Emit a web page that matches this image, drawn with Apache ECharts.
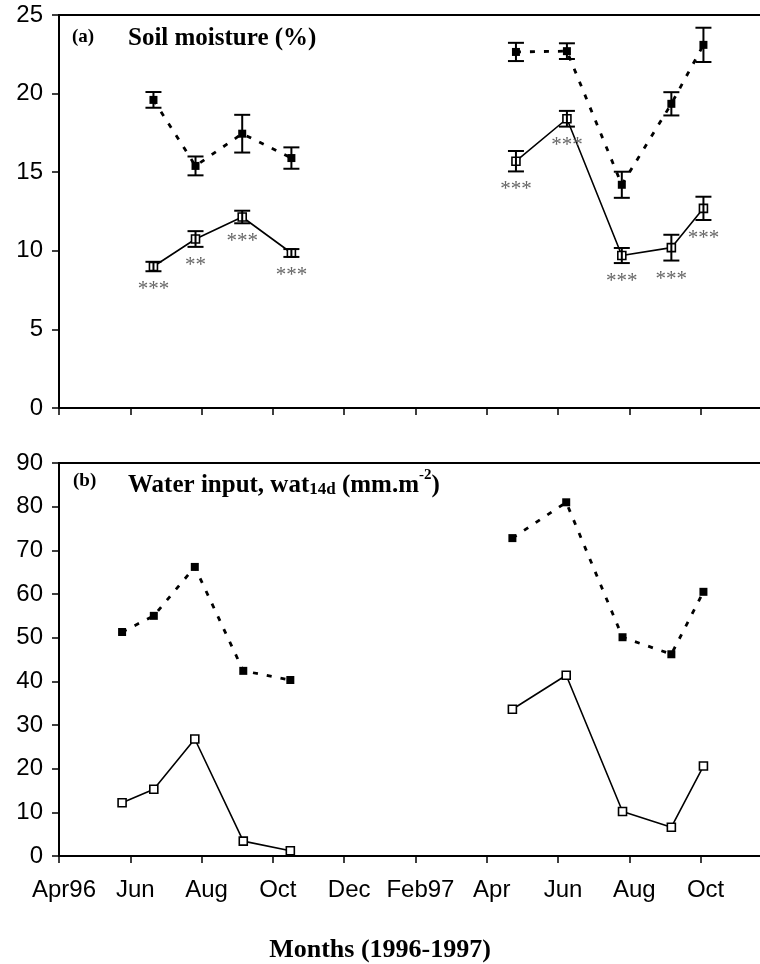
<!DOCTYPE html>
<html>
<head>
<meta charset="utf-8">
<script src="https://cdn.jsdelivr.net/npm/echarts@6/dist/echarts.min.js"></script>
<style>
  html, body { margin: 0; padding: 0; background: #fff; }
  #chart { width: 760px; height: 964px; }
</style>
</head>
<body>
<div id="chart"></div>
<script>
// x positions are months after 1 April 1996
const monthLabels = ['Apr96', 'Jun', 'Aug', 'Oct', 'Dec', 'Feb97', 'Apr', 'Jun', 'Aug', 'Oct'];

// (a) soil moisture (%)
const soilDates96 = [2.65, 3.83, 5.14, 6.52];
const soilDates97 = [12.82, 14.25, 15.79, 17.18, 18.08];
const soilClosed96 = [19.6, 15.4, 17.45, 15.9];
const soilClosedErr96 = [0.5, 0.6, 1.2, 0.68];
const soilOpen96 = [9.0, 10.75, 12.15, 9.86];
const soilOpenErr96 = [0.3, 0.5, 0.4, 0.25];
const soilClosed97 = [22.65, 22.7, 14.2, 19.35, 23.1];
const soilClosedErr97 = [0.58, 0.5, 0.83, 0.74, 1.09];
const soilOpen97 = [15.7, 18.4, 9.7, 10.2, 12.7];
const soilOpenErr97 = [0.65, 0.5, 0.48, 0.82, 0.74];
const signif96 = ['***', '**', '***', '***'];
const signif97 = ['***', '***', '***', '***', '***'];

// (b) water input, wat14d (mm.m-2)
const waterDates96 = [1.77, 2.66, 3.81, 5.17, 6.49];
const waterDates97 = [12.72, 14.23, 15.81, 17.18, 18.08];
const waterClosed96 = [51.3, 55.0, 66.2, 42.4, 40.3];
const waterOpen96 = [12.2, 15.3, 26.8, 3.4, 1.2];
const waterClosed97 = [72.8, 81.0, 50.1, 46.2, 60.5];
const waterOpen97 = [33.6, 41.4, 10.2, 6.6, 20.6];

const SANS = '"Liberation Sans", Arial, sans-serif';
const SERIF = '"Liberation Serif", "Times New Roman", serif';

const pairs = (xs, ys) => xs.map((x, i) => [x, ys[i]]);

function lineSeries(idx, xs, ys, filled) {
    return {
        type: 'line',
        xAxisIndex: idx, yAxisIndex: idx,
        data: pairs(xs, ys),
        symbol: 'rect',
        symbolSize: 8,
        showSymbol: true,
        animation: false,
        z: 2,
        lineStyle: filled
            ? { color: '#000', width: 2.8, type: [5, 9] }
            : { color: '#000', width: 1.6, type: 'solid' },
        itemStyle: filled
            ? { color: '#000', borderColor: '#000', borderWidth: 0 }
            : { color: '#fff', borderColor: '#000', borderWidth: 1.6 }
    };
}

function errorSeries(idx, xs, ys, errs, stars) {
    return {
        type: 'custom',
        xAxisIndex: idx, yAxisIndex: idx,
        data: xs.map((x, i) => [x, ys[i], errs[i]]),
        animation: false,
        z: 3,
        renderItem: function (params, api) {
            const x = api.value(0), y = api.value(1), e = api.value(2);
            const hi = api.coord([x, y + e]);
            const lo = api.coord([x, y - e]);
            const w = 8;
            const st = { stroke: '#000', lineWidth: 2 };
            const children = [
                { type: 'line', shape: { x1: hi[0], y1: hi[1], x2: lo[0], y2: lo[1] }, style: st },
                { type: 'line', shape: { x1: hi[0] - w, y1: hi[1], x2: hi[0] + w, y2: hi[1] }, style: st },
                { type: 'line', shape: { x1: lo[0] - w, y1: lo[1], x2: lo[0] + w, y2: lo[1] }, style: st }
            ];
            if (stars) {
                children.push({
                    type: 'text',
                    x: lo[0], y: lo[1] + 8,
                    style: {
                        text: stars[params.dataIndex],
                        fill: '#666',
                        font: '21px ' + SERIF,
                        align: 'center',
                        verticalAlign: 'top'
                    }
                });
            }
            return { type: 'group', children };
        }
    };
}

function xAxis(idx, showLabels) {
    return {
        type: 'value', gridIndex: idx,
        min: 0, max: 20.2, interval: 2,
        axisLine: { show: true, onZero: false, lineStyle: { color: '#000', width: 2 } },
        axisTick: { show: true, inside: false, length: 7, lineStyle: { color: '#000', width: 1.5 } },
        splitLine: { show: false },
        axisLabel: {
            show: showLabels,
            margin: 22,
            color: '#000',
            fontFamily: SANS,
            fontSize: 24,
            padding: [0, 0, 0, 10],
            formatter: v => (v % 2 === 0 && v / 2 < monthLabels.length) ? monthLabels[v / 2] : ''
        }
    };
}

function yAxis(idx, max, interval) {
    return {
        type: 'value', gridIndex: idx,
        min: 0, max: max, interval: interval,
        axisLine: { show: true, lineStyle: { color: '#000', width: 2 } },
        axisTick: { show: true, inside: false, length: 7, lineStyle: { color: '#000', width: 1.5 } },
        splitLine: { show: false },
        axisLabel: { margin: 16, color: '#000', fontFamily: SANS, fontSize: 24 }
    };
}

const chart = echarts.init(document.getElementById('chart'), null, { renderer: 'canvas' });

chart.setOption({
    backgroundColor: '#fff',
    animation: false,
    grid: [
        { left: 59, top: 15, width: 720, height: 393, outerBoundsMode: 'none', containLabel: false,
          show: true, borderColor: '#000', borderWidth: 2, backgroundColor: 'transparent' },
        { left: 59, top: 463, width: 720, height: 393, outerBoundsMode: 'none', containLabel: false,
          show: true, borderColor: '#000', borderWidth: 2, backgroundColor: 'transparent' }
    ],
    xAxis: [xAxis(0, false), xAxis(1, true)],
    yAxis: [yAxis(0, 25, 5), yAxis(1, 90, 10)],
    graphic: [
        { type: 'text', left: 72, top: 28, style: { text: '(a)', font: 'bold 19px ' + SERIF, fill: '#000' } },
        { type: 'text', left: 128, top: 26, style: { text: 'Soil moisture (%)', font: 'bold 25px ' + SERIF, fill: '#000' } },
        { type: 'text', left: 73, top: 472, style: { text: '(b)', font: 'bold 19px ' + SERIF, fill: '#000' } },
        {
            type: 'text', left: 128, top: 468,
            style: {
                text: '{a|Water input, wat}{s|14d}{a| (mm.m}{p|-2}{a|)}',
                fill: '#000',
                rich: {
                    a: { font: 'bold 25px ' + SERIF, lineHeight: 30, verticalAlign: 'bottom' },
                    s: { font: 'bold 17px ' + SERIF, lineHeight: 17, verticalAlign: 'bottom' },
                    p: { font: 'bold 15px ' + SERIF, lineHeight: 15, verticalAlign: 'top' }
                }
            }
        },
        { type: 'text', left: 'center', top: 937, style: { text: 'Months (1996-1997)', font: 'bold 26px ' + SERIF, fill: '#000' } }
    ],
    series: [
        lineSeries(0, soilDates96, soilClosed96, true),
        lineSeries(0, soilDates97, soilClosed97, true),
        lineSeries(0, soilDates96, soilOpen96, false),
        lineSeries(0, soilDates97, soilOpen97, false),
        errorSeries(0, soilDates96, soilClosed96, soilClosedErr96, null),
        errorSeries(0, soilDates97, soilClosed97, soilClosedErr97, null),
        errorSeries(0, soilDates96, soilOpen96, soilOpenErr96, signif96),
        errorSeries(0, soilDates97, soilOpen97, soilOpenErr97, signif97),
        lineSeries(1, waterDates96, waterClosed96, true),
        lineSeries(1, waterDates97, waterClosed97, true),
        lineSeries(1, waterDates96, waterOpen96, false),
        lineSeries(1, waterDates97, waterOpen97, false)
    ]
});
</script>
</body>
</html>
